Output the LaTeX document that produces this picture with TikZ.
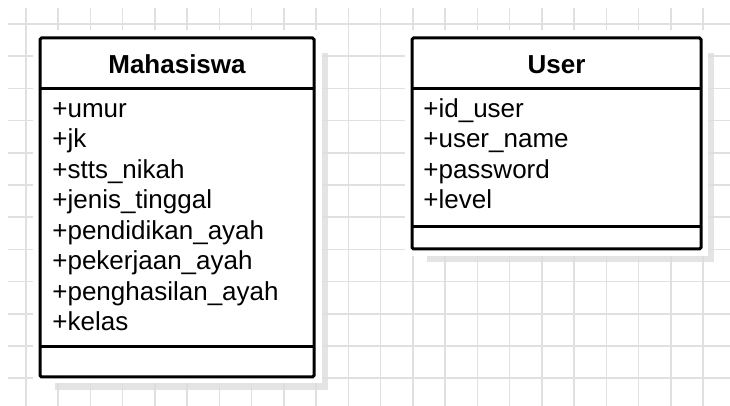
\documentclass[tikz,border=0pt]{standalone}
\usepackage{fontspec}
\setmainfont{Liberation Sans}
\begin{document}
\begin{tikzpicture}[x=0.5pt,y=-0.5pt,
  gridline/.style={draw=black!12,line width=0.75pt},
  shadowfill/.style={fill=black!13},
  halo/.style={fill=white},
  classbox/.style={draw=black,line width=1.5pt,rounded corners=0.8pt,fill=white},
  sepline/.style={draw=black,line width=1.5pt},
  title/.style={font=\fontsize{13}{15}\selectfont\bfseries,anchor=base,inner sep=0pt},
  attr/.style={font=\fontsize{13}{15}\selectfont,anchor=base west,inner sep=0pt}]
\useasboundingbox (0,0) rectangle (730,406);
\fill[white] (0,0) rectangle (730,406);
% grid
\foreach \k in {0,...,21} \draw[gridline] ({26+32.24*\k},8) -- ({26+32.24*\k},406);
\foreach \k in {0,...,11} \draw[gridline] (8,{24+32.2*\k}) -- (730,{24+32.2*\k});
% shadows
\fill[shadowfill,opacity=0.8] (55,53) rectangle (328,390);
\fill[shadowfill,opacity=0.8] (427,53) rectangle (714,262);
% halos
\fill[halo] (33,30) rectangle (322,383);
\fill[halo] (405,30) rectangle (708,256);
% Mahasiswa box
\draw[classbox] (40,38) rectangle (314,377);
\draw[sepline] (40,89) -- (314,89);
\draw[sepline] (40,347) -- (314,347);
\node[title] (mtitle) at (177,73.5) {Mahasiswa};
\node[attr] (m1) at (52,117.5) {+umur};
\node[attr] (m2) at (52,147.9) {+jk};
\node[attr] (m3) at (52,178.4) {+stts\_nikah};
\node[attr] (m4) at (52,208.8) {+jenis\_tinggal};
\node[attr] (m5) at (52,239.3) {+pendidikan\_ayah};
\node[attr] (m6) at (52,269.7) {+pekerjaan\_ayah};
\node[attr] (m7) at (52,300.2) {+penghasilan\_ayah};
\node[attr] (m8) at (52,330.6) {+kelas};
% User box
\draw[classbox] (412,38) rectangle (701,249);
\draw[sepline] (412,89) -- (701,89);
\draw[sepline] (412,227) -- (701,227);
\node[title] (utitle) at (556.5,73.5) {User};
\node[attr] (u1) at (423,117.5) {+id\_user};
\node[attr] (u2) at (423,147.9) {+user\_name};
\node[attr] (u3) at (423,178.4) {+password};
\node[attr] (u4) at (423,208.8) {+level};
\end{tikzpicture}
\end{document}
